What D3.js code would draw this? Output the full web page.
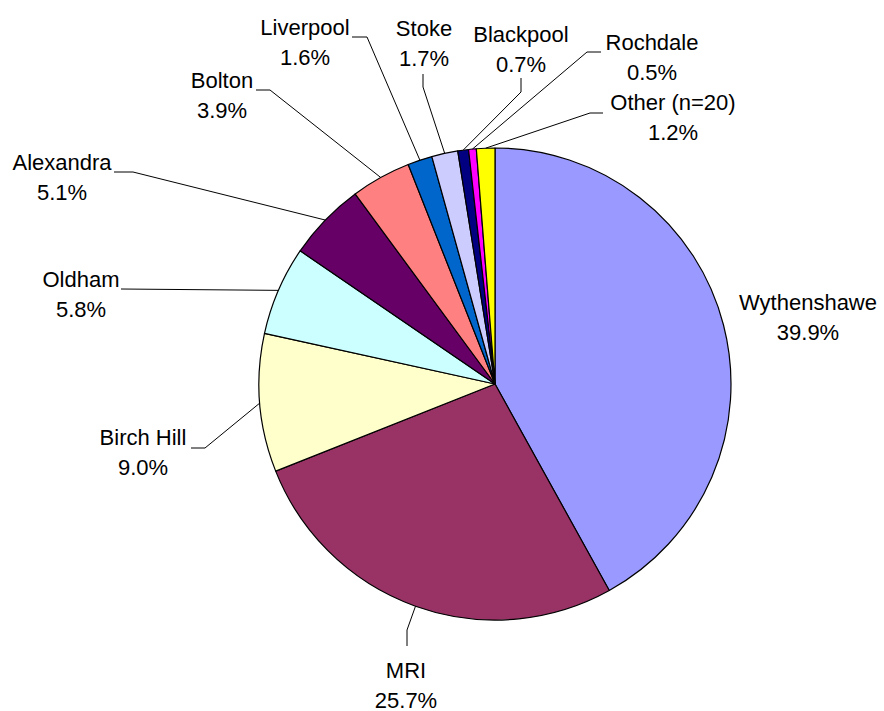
<!DOCTYPE html>
<html>
<head>
<meta charset="utf-8">
<script src="https://cdn.jsdelivr.net/npm/d3@7"></script>
<style>
  body { margin: 0; background: #fff; }
  text { font-family: "Liberation Sans", Arial, sans-serif; font-size: 22px; fill: #000; }
</style>
</head>
<body>
<div id="chart"></div>
<script>
// data, clockwise from 12 o'clock
var hospitals = ["Wythenshawe", "MRI", "Birch Hill", "Oldham", "Alexandra", "Bolton",
                 "Liverpool", "Stoke", "Blackpool", "Rochdale", "Other (n=20)"];
var percents  = [39.9, 25.7, 9.0, 5.8, 5.1, 3.9, 1.6, 1.7, 0.7, 0.5, 1.2];
var colours   = ["#9999FF", "#993366", "#FFFFCC", "#CCFFFF", "#660066", "#FF8080",
                 "#0066CC", "#CCCCFF", "#000080", "#FF00FF", "#FFFF00"];

var w = 884, h = 711;
var cx = 495, cy = 384, r = 236;

// label layout: text centre x, first baseline y, and leader start + elbow (null = no leader)
var labelPos = [
  {x: 808, y: 310, lead: null},
  {x: 406, y: 678, lead: [[407, 646], [407, 630]]},
  {x: 143, y: 445, lead: [[191, 448], [205, 448]]},
  {x: 81,  y: 287, lead: [[121, 289], [121, 289]]},
  {x: 62,  y: 170, lead: [[114, 172], [133, 172]]},
  {x: 222, y: 88,  lead: [[256, 90], [270, 90]]},
  {x: 305, y: 35,  lead: [[352, 37], [367, 37]]},
  {x: 424, y: 36,  lead: [[423, 74], [423, 87]]},
  {x: 521, y: 42,  lead: [[521, 78], [521, 92]]},
  {x: 652, y: 50,  lead: [[601, 52], [587, 52]]},
  {x: 673, y: 110, lead: [[603, 113], [590, 113]]}
];

var svg = d3.select("#chart").append("svg")
    .attr("width", w)
    .attr("height", h);

var pie = d3.pie().sort(null).value(function(d) { return d; });
var arcs = pie(percents);

var arc = d3.arc().innerRadius(0).outerRadius(r);

var g = svg.append("g").attr("transform", "translate(" + cx + "," + cy + ")");

g.selectAll("path.slice")
  .data(arcs)
  .enter().append("path")
    .attr("class", "slice")
    .attr("d", arc)
    .style("fill", function(d, i) { return colours[i]; })
    .style("stroke", "#000")
    .style("stroke-width", 1.2)
    .style("stroke-linejoin", "round");

// leader lines, ending on the rim at the slice's mid angle
function rimPoint(d) {
  var a = (d.startAngle + d.endAngle) / 2;
  return [cx + r * Math.sin(a), cy - r * Math.cos(a)];
}

arcs.forEach(function(d, i) {
  var p = labelPos[i];
  if (!p.lead) return;
  var pts = [p.lead[0], p.lead[1], rimPoint(d)];
  svg.append("path")
    .attr("d", d3.line()(pts))
    .style("fill", "none")
    .style("stroke", "#000")
    .style("stroke-width", 1);
});

// labels
arcs.forEach(function(d, i) {
  var p = labelPos[i];
  var t = svg.append("text")
    .attr("text-anchor", "middle")
    .attr("x", p.x)
    .attr("y", p.y);
  t.append("tspan").attr("x", p.x).text(hospitals[i]);
  t.append("tspan").attr("x", p.x).attr("dy", 30).text(percents[i].toFixed(1) + "%");
});
</script>
</body>
</html>
